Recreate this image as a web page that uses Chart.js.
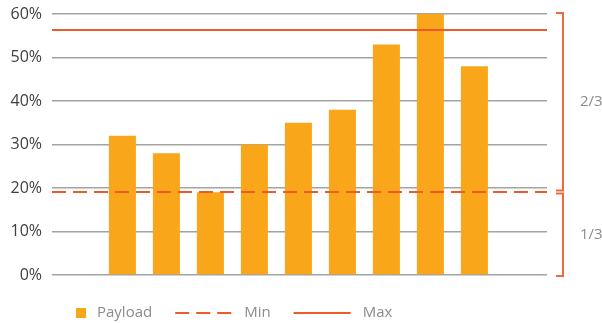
<!DOCTYPE html>
<html>
<head>
<meta charset="utf-8">
<script src="https://cdn.jsdelivr.net/npm/chart.js@4"></script>
<style>
  body { margin: 0; background: #fff; }
  canvas { display: block; }
</style>
</head>
<body>
<canvas id="chart" width="602" height="323"></canvas>
<script>
// chart data
const categories = ['1', '2', '3', '4', '5', '6', '7', '8', '9'];
const payload = [32, 28, 19, 30, 35, 38, 53, 60, 48];
const minLevel = 19.1;
const maxLevel = 56.3;
const yTicks = [0, 10, 20, 30, 40, 50, 60];
const seriesNames = ['Payload', 'Min', 'Max'];
const shareLabels = ['2/3', '1/3'];

const barColor = '#F9A61B';
const lineColor = '#F05A28';
const bracketColor = '#F26A3A';
const font = "'Open Sans', 'Noto Sans', sans-serif";

// x range so the bars sit where they do in the picture
const xMin = 1 - 1.6;
const xMax = categories.length + 1.65;

// brackets on the right: 60%..min and min..0%
const bracketPlugin = {
  id: 'brackets',
  afterDraw(chart) {
    const { ctx, chartArea, scales: { y } } = chart;
    const top = y.getPixelForValue(yTicks[yTicks.length - 1]) - 1;
    const mid = y.getPixelForValue(minLevel);
    const bot = y.getPixelForValue(yTicks[0]) + 1;
    const xs = chartArea.right + 9, xv = chartArea.right + 16;
    ctx.save();
    ctx.strokeStyle = bracketColor;
    ctx.lineWidth = 2;
    [[top, mid - 1.5], [mid + 1.5, bot]].forEach(([a, b], i) => {
      ctx.beginPath();
      ctx.moveTo(xs, a);
      ctx.lineTo(xv, a);
      ctx.lineTo(xv, b);
      ctx.lineTo(xs, b);
      ctx.stroke();
      ctx.fillStyle = '#8c8c8c';
      ctx.font = '15px ' + font;
      ctx.textBaseline = 'middle';
      ctx.textAlign = 'left';
      ctx.fillText(shareLabels[i], chartArea.right + 33, (a + b) / 2);
    });
    ctx.restore();
  }
};

// legend: square for the bars, line samples for Min / Max
const legendPlugin = {
  id: 'customLegend',
  afterDraw(chart) {
    const { ctx } = chart;
    const yc = 313;
    let x = 76;
    ctx.save();
    ctx.font = '15px ' + font;
    ctx.textBaseline = 'middle';
    ctx.fillStyle = '#8c8c8c';
    chart.data.datasets.forEach((ds, i) => {
      if (ds.type === 'bar') {
        ctx.fillStyle = ds.backgroundColor;
        ctx.fillRect(x, yc - 5, 10, 10);
        x += 10 + 11;
      } else {
        ctx.strokeStyle = ds.borderColor;
        ctx.lineWidth = 2;
        ctx.setLineDash(ds.borderDash || []);
        ctx.beginPath();
        ctx.moveTo(x, yc);
        ctx.lineTo(x + 57, yc);
        ctx.stroke();
        ctx.setLineDash([]);
        x += 57 + 12;
      }
      ctx.fillStyle = '#8c8c8c';
      ctx.fillText(ds.label, x, yc);
      x += ctx.measureText(ds.label).width + 23;
    });
    ctx.restore();
  }
};

new Chart(document.getElementById('chart'), {
  data: {
    datasets: [
      {
        type: 'bar',
        label: seriesNames[0],
        data: payload.map((v, i) => ({ x: i + 1, y: v })),
        backgroundColor: barColor,
        barPercentage: 0.614,
        categoryPercentage: 1,
        order: 2
      },
      {
        type: 'line',
        label: seriesNames[1],
        data: [{ x: xMin, y: minLevel }, { x: xMax, y: minLevel }],
        borderColor: lineColor,
        borderWidth: 2,
        borderDash: [14, 7],
        pointRadius: 0,
        order: 0
      },
      {
        type: 'line',
        label: seriesNames[2],
        data: [{ x: xMin, y: maxLevel }, { x: xMax, y: maxLevel }],
        borderColor: lineColor,
        borderWidth: 2,
        pointRadius: 0,
        order: 1
      }
    ]
  },
  options: {
    responsive: false,
    animation: false,
    layout: { padding: { left: 0, right: 55, top: 14, bottom: 48 } },
    plugins: {
      legend: { display: false },
      tooltip: { enabled: false }
    },
    scales: {
      x: {
        type: 'linear',
        min: xMin,
        max: xMax,
        offset: false,
        grid: { offset: false },
        display: false
      },
      y: {
        min: yTicks[0],
        max: yTicks[yTicks.length - 1],
        afterFit(scale) {
          scale.width = 52;
          scale.paddingTop = 0;
          scale.paddingBottom = 0;
        },
        afterBuildTicks(scale) { scale.ticks = yTicks.map(v => ({ value: v })); },
        border: { display: false },
        grid: { color: '#a3a3a3', lineWidth: 1.5, drawTicks: false },
        ticks: {
          padding: 10,
          color: '#404040',
          font: { family: font, size: 16 },
          callback: v => v + '%'
        }
      }
    }
  },
  plugins: [bracketPlugin, legendPlugin]
});
</script>
</body>
</html>
